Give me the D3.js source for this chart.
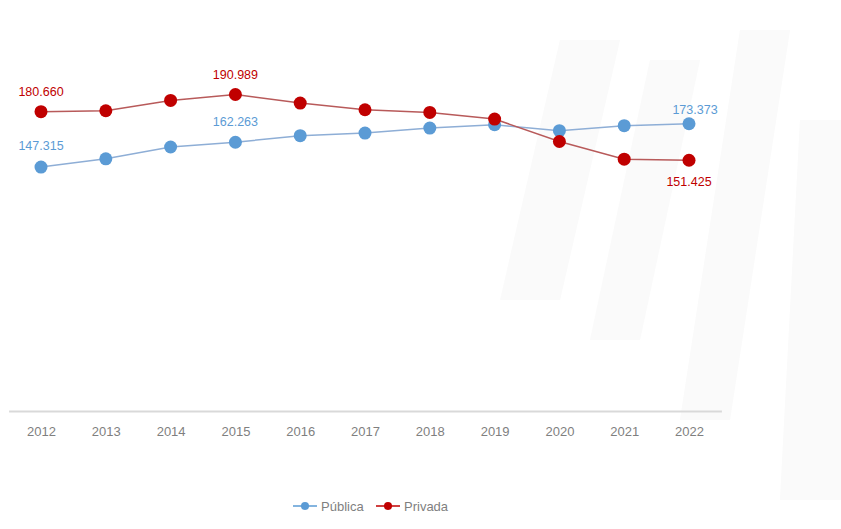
<!DOCTYPE html>
<html lang="pt">
<head>
  <meta charset="UTF-8">
  <title>Pública x Privada</title>
  <script src="https://d3js.org/d3.v7.min.js"></script>
  <style>
    body { margin: 0; background: #fff; }
    svg { display: block; font-family: "Liberation Sans", Arial, sans-serif; }
  </style>
</head>
<body>
<div id="chart"></div>
<script>
  const years = ["2012", "2013", "2014", "2015", "2016", "2017", "2018", "2019", "2020", "2021", "2022"];
  const publica = [147315, 152300, 159400, 162263, 166200, 167800, 170800, 172800, 169200, 172200, 173373];
  const privada = [180660, 181200, 187400, 190989, 185800, 181800, 180200, 176200, 162700, 152100, 151425];
  // which points carry a value label
  const publicaLabels = { "2012": "147.315", "2015": "162.263", "2022": "173.373" };
  const privadaLabels = { "2012": "180.660", "2015": "190.989", "2022": "151.425" };

  const W = 841, H = 529;
  const blue = "#5b9bd5", red = "#c00000";

  const svg = d3.select("#chart").append("svg")
    .attr("width", W).attr("height", H);

  // very faint background watermark on the right
  const wm = svg.append("g").attr("fill", "#f7f7f7").attr("opacity", 0.6);
  [[560, 40, 620, 40, 560, 300, 500, 300], [650, 60, 700, 60, 640, 340, 590, 340],
   [740, 30, 790, 30, 730, 420, 680, 420], [800, 120, 841, 120, 841, 500, 780, 500]]
    .forEach(p => wm.append("polygon").attr("points", p.join(",")));

  const x = d3.scalePoint()
    .domain(years)
    .range([8.6, 721.4])
    .padding(0.5);

  const y = d3.scaleLinear()
    .domain([0, 200000])
    .range([412, 79.5]);

  // baseline axis
  const ax = svg.append("g")
    .attr("transform", "translate(0,411)")
    .call(d3.axisBottom(x).tickSize(0).tickPadding(16));
  ax.select(".domain").attr("stroke", "#d9d9d9").attr("stroke-width", 2);
  ax.selectAll("text")
    .attr("fill", "#7f7f7f")
    .style("font-size", "13px");

  const line = d3.line()
    .x((d, i) => x(years[i]))
    .y(d => y(d));

  function drawSeries(values, color, lineColor) {
    svg.append("path")
      .datum(values)
      .attr("fill", "none")
      .attr("stroke", lineColor)
      .attr("stroke-width", 1.5)
      .attr("d", line);
    svg.append("g").selectAll("circle")
      .data(values)
      .join("circle")
      .attr("cx", (d, i) => x(years[i]))
      .attr("cy", d => y(d))
      .attr("r", 6.5)
      .attr("fill", color);
  }

  drawSeries(publica, blue, "#8eaed6");
  drawSeries(privada, red, "#b85a5a");

  function drawLabels(values, labels, color, dy, dx) {
    years.forEach((yr, i) => {
      if (!labels[yr]) return;
      svg.append("text")
        .attr("x", x(yr) + (dx[yr] || 0))
        .attr("y", y(values[i]) + dy[yr])
        .attr("text-anchor", "middle")
        .attr("fill", color)
        .style("font-size", "12.5px")
        .text(labels[yr]);
    });
  }

  drawLabels(publica, publicaLabels, blue, { "2012": -17, "2015": -16, "2022": -10 }, { "2022": 6 });
  drawLabels(privada, privadaLabels, red, { "2012": -16, "2015": -15, "2022": 26 }, {});

  // legend
  const legend = svg.append("g").attr("transform", "translate(0,506)");
  const items = [
    { name: "Pública", color: blue, x: 293 },
    { name: "Privada", color: red, x: 376 }
  ];
  items.forEach(it => {
    legend.append("line")
      .attr("x1", it.x).attr("x2", it.x + 24)
      .attr("stroke", it.color).attr("stroke-width", 1.5);
    legend.append("circle")
      .attr("cx", it.x + 12).attr("r", 4)
      .attr("fill", it.color);
    legend.append("text")
      .attr("x", it.x + 28).attr("y", 4.5)
      .attr("fill", "#7f7f7f")
      .style("font-size", "13px")
      .text(it.name);
  });
</script>
</body>
</html>
